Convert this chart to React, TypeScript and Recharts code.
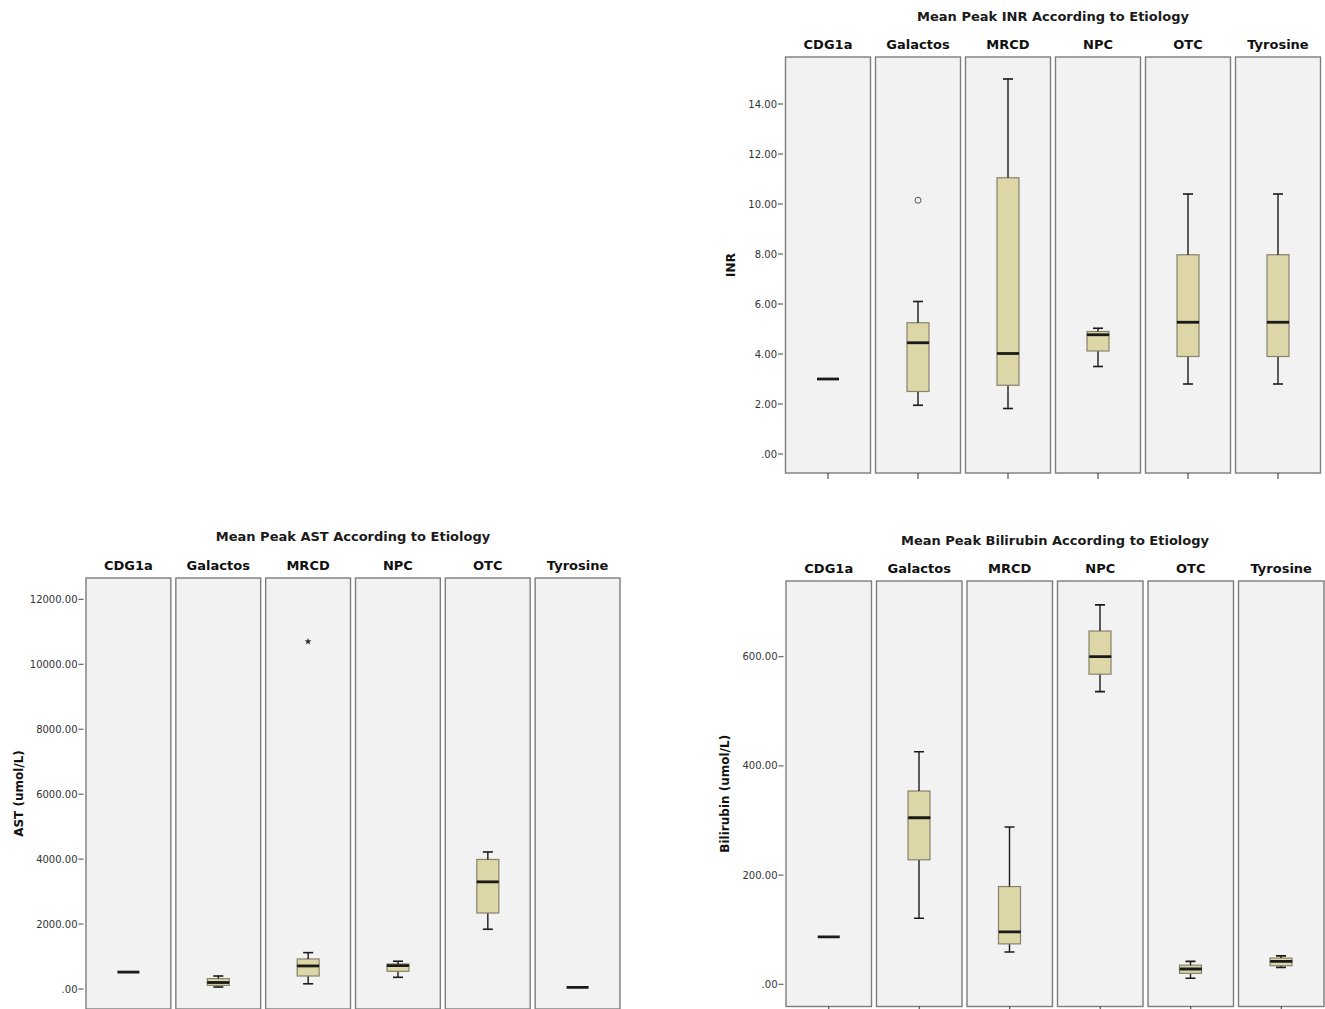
import React from 'react'
import { ComposedChart, Bar, Scatter, XAxis, YAxis, ReferenceArea } from 'recharts'

const etiologies = ['CDG1a', 'Galactos', 'MRCD', 'NPC', 'OTC', 'Tyrosine']

// INR
const inrLow = [3.0, 1.95, 1.82, 3.5, 2.8, 2.8]
const inrQ1 = [3.0, 2.5, 2.75, 4.12, 3.9, 3.9]
const inrMedian = [3.0, 4.45, 4.02, 4.77, 5.27, 5.27]
const inrQ3 = [3.0, 5.25, 11.05, 4.9, 7.97, 7.97]
const inrHigh = [3.0, 6.1, 15.0, 5.03, 10.4, 10.4]
const inrOutliers = [null, 10.15, null, null, null, null]
const inrTicks = [0, 2, 4, 6, 8, 10, 12, 14]

// AST
const astLow = [520, 60, 160, 360, 1840, 50]
const astQ1 = [520, 110, 400, 545, 2340, 50]
const astMedian = [520, 200, 710, 720, 3300, 50]
const astQ3 = [520, 320, 925, 770, 3990, 50]
const astHigh = [520, 400, 1120, 855, 4220, 50]
const astOutliers = [null, null, 10700, null, null, null]
const astTicks = [0, 2000, 4000, 6000, 8000, 10000, 12000]

// Bilirubin
const biliLow = [87, 121, 59, 536, 11, 31]
const biliQ1 = [87, 228, 74, 568, 20, 34]
const biliMedian = [87, 305, 96, 600, 28, 42]
const biliQ3 = [87, 354, 179, 647, 35, 48]
const biliHigh = [87, 426, 288, 695, 42, 52]
const biliOutliers = [null, null, null, null, null, null]
const biliTicks = [0, 200, 400, 600]

const buildRows = (low: number[], q1: number[], med: number[], q3: number[], high: number[], out: (number | null)[]) =>
  etiologies.map((name, i) => ({
    name,
    base: low[i],
    wLow: q1[i] - low[i],
    bLow: med[i] - q1[i],
    bHigh: q3[i] - med[i],
    wHigh: high[i] - q3[i],
    median: med[i],
    outlier: out[i],
  }))

const BOX_FILL = '#ddd6a6'
const BOX_STROKE = '#85826e'
const INK = '#1a1a1a'

const PanelShape = (p: any) => (
  <rect x={p.x + 2.5} y={p.y} width={p.width - 5} height={p.height} fill="#f2f2f2" stroke="#7d7d7d" strokeWidth={1.4} />
)

const WhiskerLow = (p: any) => {
  if (!p.height || p.height <= 0.3) return <g />
  const cx = p.x + p.width / 2
  return (
    <g>
      <line x1={cx} x2={cx} y1={p.y} y2={p.y + p.height} stroke={INK} strokeWidth={1.4} />
      <line x1={cx - 5} x2={cx + 5} y1={p.y + p.height} y2={p.y + p.height} stroke={INK} strokeWidth={1.6} />
    </g>
  )
}

const WhiskerHigh = (p: any) => {
  if (!p.height || p.height <= 0.3) return <g />
  const cx = p.x + p.width / 2
  return (
    <g>
      <line x1={cx} x2={cx} y1={p.y} y2={p.y + p.height} stroke={INK} strokeWidth={1.4} />
      <line x1={cx - 5} x2={cx + 5} y1={p.y} y2={p.y} stroke={INK} strokeWidth={1.6} />
    </g>
  )
}

const BoxPart = (p: any) => {
  if (!p.height || p.height <= 0) return <g />
  return <rect x={p.x} y={p.y} width={p.width} height={p.height} fill={BOX_FILL} stroke={BOX_STROKE} strokeWidth={1.2} />
}

const MedianShape = (p: any) => {
  if (p.cx == null || p.cy == null || isNaN(p.cy)) return <g />
  return <line x1={p.cx - 11} x2={p.cx + 11} y1={p.cy} y2={p.cy} stroke={INK} strokeWidth={2.8} />
}

const circleMark = (p: any) => {
  if (!p.payload || p.payload.outlier == null || p.cy == null || isNaN(p.cy)) return <g />
  return <circle cx={p.cx} cy={p.cy} r={3} fill="none" stroke="#555" strokeWidth={1} />
}

const starMark = (p: any) => {
  if (!p.payload || p.payload.outlier == null || p.cy == null || isNaN(p.cy)) return <g />
  const pts: string[] = []
  for (let k = 0; k < 10; k++) {
    const r = k % 2 === 0 ? 3.6 : 1.5
    const a = -Math.PI / 2 + (k * Math.PI) / 5
    pts.push(`${p.cx + r * Math.cos(a)},${p.cy + r * Math.sin(a)}`)
  }
  return <polygon points={pts.join(' ')} fill="#333" />
}

const fmt = (v: number) => (v === 0 ? '.00' : v.toFixed(2))

function FacetBoxChart({ left, top, width, height, margin, yAxisWidth, domain, ticks, rows, yLabel, labelOffset, mark, title, titleY }: any) {
  const plotLeft = left + margin.left + yAxisWidth
  const plotWidth = width - margin.left - margin.right - yAxisWidth
  return (
    <>
      <div
        style={{
          position: 'absolute',
          left: plotLeft,
          width: plotWidth,
          top: titleY - 9,
          height: 18,
          lineHeight: '18px',
          textAlign: 'center',
          fontSize: 13,
          fontWeight: 'bold',
          color: '#1a1a1a',
        }}
      >
        {title}
      </div>
      <div style={{ position: 'absolute', left, top, width, height }}>
        <ComposedChart width={width} height={height} data={rows} margin={margin} barSize={22}>
          <XAxis dataKey="name" axisLine={false} tickLine={{ stroke: '#333' }} tickSize={6} height={20} interval={0} tick={() => <g />} />
          <XAxis
            xAxisId="top"
            orientation="top"
            dataKey="name"
            axisLine={false}
            tickLine={false}
            height={30}
            interval={0}
            tick={{ fontSize: 13, fontWeight: 'bold', fill: '#111' }}
          />
          <YAxis
            type="number"
            domain={domain}
            allowDataOverflow
            ticks={ticks}
            interval={0}
            tickFormatter={fmt}
            width={yAxisWidth}
            axisLine={false}
            tickLine={{ stroke: '#444' }}
            tickSize={5}
            tickMargin={1}
            tick={{ fontSize: 10, fill: '#333' }}
            label={{
              value: yLabel,
              angle: -90,
              position: 'insideLeft',
              offset: labelOffset,
              style: { textAnchor: 'middle', fontSize: 12, fontWeight: 'bold', fill: '#111' },
            }}
          />
          {etiologies.map((e) => (
            <ReferenceArea key={e} x1={e} x2={e} ifOverflow="visible" zIndex={-100} shape={PanelShape} />
          ))}
          <Bar dataKey="base" stackId="box" fill="none" shape={() => <g />} isAnimationActive={false} />
          <Bar dataKey="wLow" stackId="box" shape={WhiskerLow} isAnimationActive={false} />
          <Bar dataKey="bLow" stackId="box" shape={BoxPart} isAnimationActive={false} />
          <Bar dataKey="bHigh" stackId="box" shape={BoxPart} isAnimationActive={false} />
          <Bar dataKey="wHigh" stackId="box" shape={WhiskerHigh} isAnimationActive={false} />
          <Scatter dataKey="median" shape={MedianShape} isAnimationActive={false} />
          <Scatter dataKey="outlier" shape={mark === 'star' ? starMark : circleMark} isAnimationActive={false} />
        </ComposedChart>
      </div>
    </>
  )
}

export default function App() {
  const inrRows = buildRows(inrLow, inrQ1, inrMedian, inrQ3, inrHigh, inrOutliers)
  const astRows = buildRows(astLow, astQ1, astMedian, astQ3, astHigh, astOutliers)
  const biliRows = buildRows(biliLow, biliQ1, biliMedian, biliQ3, biliHigh, biliOutliers)
  return (
    <div
      style={{
        position: 'fixed',
        left: 0,
        top: 0,
        width: 1325,
        height: 1009,
        overflow: 'hidden',
        background: '#fff',
        fontFamily: '"DejaVu Sans", sans-serif',
      }}
    >
      <FacetBoxChart
        title="Mean Peak INR According to Etiology"
        titleY={17}
        left={700}
        top={0}
        width={625}
        height={500}
        margin={{ top: 27, right: 2, bottom: 7, left: 0 }}
        yAxisWidth={83}
        domain={[-0.76, 15.88]}
        ticks={inrTicks}
        rows={inrRows}
        yLabel="INR"
        labelOffset={31}
        mark="circle"
      />
      <FacetBoxChart
        title="Mean Peak AST According to Etiology"
        titleY={537}
        left={0}
        top={500}
        width={640}
        height={530}
        margin={{ top: 48, right: 17.5, bottom: 1, left: 0 }}
        yAxisWidth={83.5}
        domain={[-616, 12657]}
        ticks={astTicks}
        rows={astRows}
        yLabel="AST (umol/L)"
        labelOffset={19}
        mark="star"
      />
      <FacetBoxChart
        title="Mean Peak Bilirubin According to Etiology"
        titleY={541}
        left={700}
        top={500}
        width={640}
        height={530}
        margin={{ top: 51, right: 13.5, bottom: 3.5, left: 0 }}
        yAxisWidth={83.5}
        domain={[-40.7, 738.7]}
        ticks={biliTicks}
        rows={biliRows}
        yLabel="Bilirubin (umol/L)"
        labelOffset={25}
        mark="circle"
      />
    </div>
  )
}
